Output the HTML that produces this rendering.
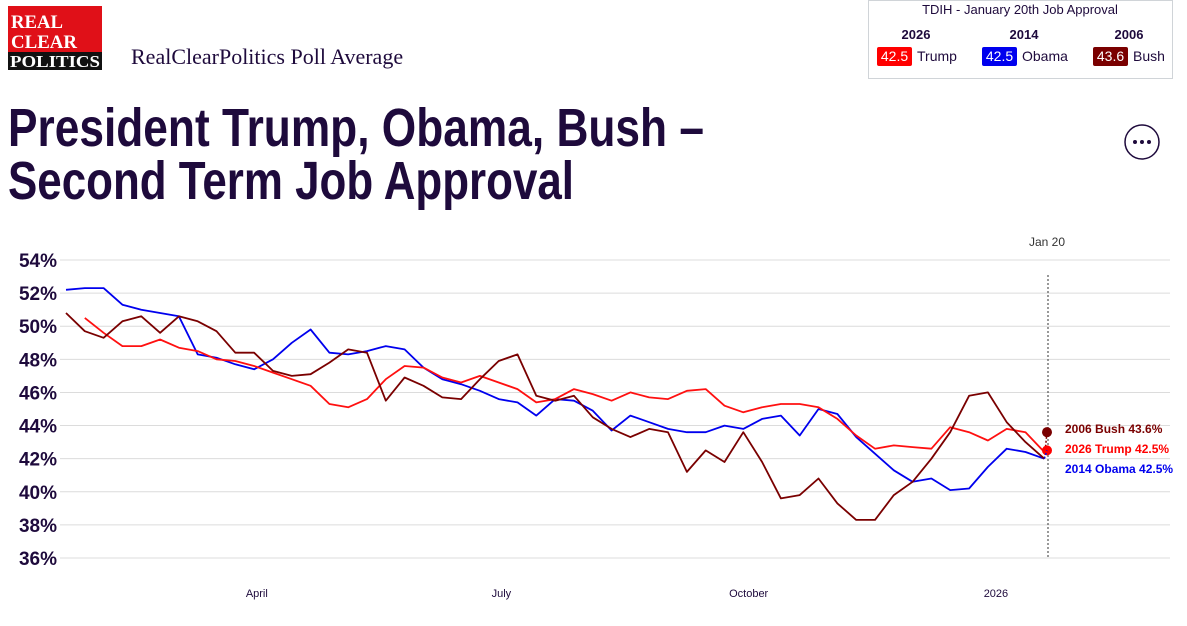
<!DOCTYPE html>
<html><head><meta charset="utf-8"><style>
body{margin:0;background:#fff;width:1187px;height:626px;overflow:hidden;font-family:"Liberation Sans",sans-serif}
svg{display:block}
</style></head><body>
<svg id="chart" width="1187" height="626" viewBox="0 0 1187 626">
<g>
<rect x="8" y="6" width="94" height="64" fill="#e01018"/>
<text x="11" y="28" font-family="Liberation Serif,serif" font-size="19" font-weight="bold" fill="#fff" textLength="52" lengthAdjust="spacingAndGlyphs">REAL</text>
<text x="11" y="48" font-family="Liberation Serif,serif" font-size="19" font-weight="bold" fill="#fff" textLength="66" lengthAdjust="spacingAndGlyphs">CLEAR</text>
<rect x="8" y="52" width="94" height="18" fill="#111"/>
<text x="10" y="67" font-family="Liberation Serif,serif" font-size="17" font-weight="bold" fill="#fff" textLength="90" lengthAdjust="spacingAndGlyphs">POLITICS</text>
</g>
<text x="131" y="64" font-family="Liberation Serif,serif" font-size="22" fill="#1e0a3c">RealClearPolitics Poll Average</text>
<text x="8" y="146" font-size="54" font-weight="bold" fill="#1e0a3c" textLength="696" lengthAdjust="spacingAndGlyphs">President Trump, Obama, Bush –</text>
<text x="8" y="199" font-size="54" font-weight="bold" fill="#1e0a3c" textLength="566" lengthAdjust="spacingAndGlyphs">Second Term Job Approval</text>
<g>
<circle cx="1142" cy="142" r="17" fill="#fff" stroke="#1e0a3c" stroke-width="1.5"/>
<circle cx="1135" cy="142" r="2" fill="#1e0a3c"/><circle cx="1142" cy="142" r="2" fill="#1e0a3c"/><circle cx="1149" cy="142" r="2" fill="#1e0a3c"/>
</g>
<g>
<rect x="868.5" y="0.5" width="304" height="78" fill="#fff" stroke="#d0d4d8"/>
<text x="1020" y="14" text-anchor="middle" font-size="13" fill="#1e0a3c">TDIH - January 20th Job Approval</text>
<text x="916" y="39" text-anchor="middle" font-size="13" font-weight="bold" fill="#1e0a3c">2026</text>
<text x="1024" y="39" text-anchor="middle" font-size="13" font-weight="bold" fill="#1e0a3c">2014</text>
<text x="1129" y="39" text-anchor="middle" font-size="13" font-weight="bold" fill="#1e0a3c">2006</text>
<rect x="877" y="47" width="35" height="19" rx="2" fill="#ff0000"/><text x="894.5" y="61" text-anchor="middle" font-size="14" fill="#fff">42.5</text><text x="917" y="61" font-size="14" fill="#1e0a3c">Trump</text>
<rect x="982" y="47" width="35" height="19" rx="2" fill="#0000ee"/><text x="999.5" y="61" text-anchor="middle" font-size="14" fill="#fff">42.5</text><text x="1022" y="61" font-size="14" fill="#1e0a3c">Obama</text>
<rect x="1093" y="47" width="35" height="19" rx="2" fill="#7a0000"/><text x="1110.5" y="61" text-anchor="middle" font-size="14" fill="#fff">43.6</text><text x="1133" y="61" font-size="14" fill="#1e0a3c">Bush</text>
</g>
<g id="grid"></g><g id="xax"></g><g id="lines"></g><g id="ends"></g>
</svg>
<script>
const yTicks=[36,38,40,42,44,46,48,50,52,54];
const xMonths=["April","July","October","2026"];
const xMonthDays=[71,162,254,346];
const endDay=365;
const trump=[null,50.5,49.6,48.8,48.8,49.2,48.7,48.5,48.0,47.9,47.6,47.2,46.8,46.4,45.3,45.1,45.6,46.8,47.6,47.5,46.9,46.6,47.0,46.6,46.2,45.4,45.6,46.2,45.9,45.5,46.0,45.7,45.6,46.1,46.2,45.2,44.8,45.1,45.3,45.3,45.1,44.4,43.4,42.6,42.8,42.7,42.6,43.9,43.6,43.1,43.8,43.6,42.4];
const obama=[52.2,52.3,52.3,51.3,51.0,50.8,50.6,48.3,48.1,47.7,47.4,48.0,49.0,49.8,48.4,48.3,48.5,48.8,48.6,47.5,46.8,46.5,46.1,45.6,45.4,44.6,45.6,45.5,44.9,43.7,44.6,44.2,43.8,43.6,43.6,44.0,43.8,44.4,44.6,43.4,45.0,44.7,43.3,42.3,41.3,40.6,40.8,40.1,40.2,41.5,42.6,42.4,42.0];
const bush=[50.8,49.7,49.3,50.3,50.6,49.6,50.6,50.3,49.7,48.4,48.4,47.3,47.0,47.1,47.8,48.6,48.4,45.5,46.9,46.4,45.7,45.6,46.8,47.9,48.3,45.8,45.5,45.8,44.5,43.8,43.3,43.8,43.6,41.2,42.5,41.8,43.6,41.8,39.6,39.8,40.8,39.3,38.3,38.3,39.8,40.6,42.0,43.6,45.8,46.0,44.2,43.0,42.0];
const finals=[43.6,42.5,42.5];
const names=["2006 Bush 43.6%","2026 Trump 42.5%","2014 Obama 42.5%"];
const NS="http://www.w3.org/2000/svg";
const X=d=>66+d*(1047-66)/365;
const Y=v=>260+(54-v)*(558-260)/18;
function mk(t,a,p){const e=document.createElementNS(NS,t);for(const k in a)e.setAttribute(k,a[k]);p.appendChild(e);return e;}
const g=document.getElementById('grid');
yTicks.forEach(v=>{
 const l=mk('line',{x1:60,x2:1170,y1:Y(v),y2:Y(v),stroke:'#dcdcdc','stroke-width':1},g);
 
 
 const t=mk('text',{x:57,y:Y(v)+7,'text-anchor':'end','font-size':19,'font-weight':'bold',fill:'#1e0a3c'},g);
 t.textContent=v+'%';
 
 
});
const xa=document.getElementById('xax');
xMonths.forEach((m,i)=>{
 const t=mk('text',{x:X(xMonthDays[i]),y:597,'text-anchor':'middle','font-size':11,fill:'#1e0a3c'},xa);
 t.textContent=m;
 
 
});
const vl=mk('line',{x1:X(endDay)+1,x2:X(endDay)+1,y1:275,y2:558,stroke:'#333','stroke-dasharray':'2,2'},xa);


const jt=mk('text',{x:X(endDay),y:246,'text-anchor':'middle','font-size':12,fill:'#333'},xa);
jt.textContent='Jan 20';


const lg=document.getElementById('lines');
function series(arr,col,name){
 let d='';arr.forEach((v,i)=>{if(v==null)return;d+=(d?'L':'M')+X(i*7).toFixed(1)+','+Y(v).toFixed(1);});
 const p=mk('path',{d:d,fill:'none',stroke:col,'stroke-width':1.8,'stroke-linejoin':'round'},lg);
 
 
}
series(obama,'#0000ee','obama-line');
series(trump,'#ff1010','trump-line');
series(bush,'#7a0000','bush-line');
const eg=document.getElementById('ends');
const cols=['#7a0000','#ff0000','#0000ee'];
const lasts=[bush[52],trump[52],obama[52]];
finals.forEach((v,i)=>{
 const dl=mk('line',{x1:X(364),y1:Y(lasts[i]),x2:X(endDay),y2:Y(v),stroke:cols[i],'stroke-dasharray':'2,2','stroke-width':1.5},eg);
 
 
 if(i<2){const c=mk('circle',{cx:X(endDay),cy:Y(v),r:5,fill:cols[i]},eg);
 
 }
 const t=mk('text',{x:1065,y:[433,453,473][i],'font-size':12,'font-weight':'bold',fill:cols[i]},eg);
 t.textContent=names[i];
 
 
});
</script>
</body></html>
